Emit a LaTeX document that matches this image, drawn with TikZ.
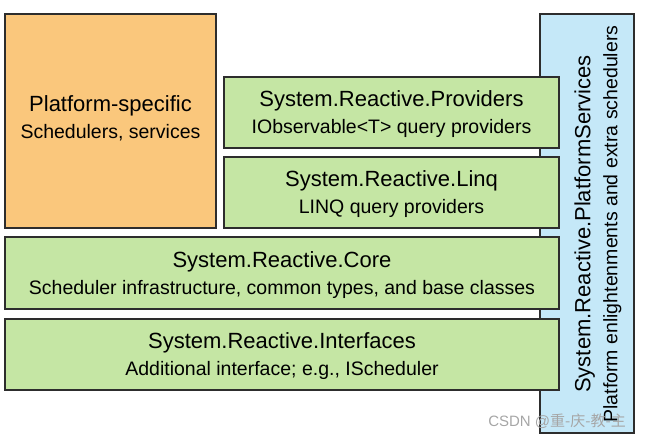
\documentclass[tikz,border=0pt]{standalone}
\usepackage{fontspec}
\setmainfont{Liberation Sans}
\newfontfamily\cjkfont{Noto Sans CJK SC}
\definecolor{orangefill}{RGB}{250,199,124}
\definecolor{greenfill}{RGB}{197,230,164}
\definecolor{bluefill}{RGB}{197,232,248}
\definecolor{edge}{RGB}{45,45,45}
\newcommand{\ttl}[1]{{\fontsize{22}{27}\selectfont #1}}
\tikzset{
  box/.style={draw=edge, line width=1.1pt, inner sep=0pt, outer sep=0pt, align=center,
    font=\fontsize{19.5}{27}\selectfont, text=black, text depth=0pt},
  greenbox/.style={box, fill=greenfill},
  txt/.style={inner sep=0pt, align=center, font=\fontsize{19.5}{27}\selectfont, text=black}
}
\begin{document}
\begin{tikzpicture}[x=1pt,y=-1pt]
\useasboundingbox (0,0) rectangle (646,442);
% right blue box (behind green boxes)
\node[box, fill=bluefill, minimum width=94, minimum height=419] (plat) at (587,223.5) {};
\node[txt, rotate=90] (plattxt) at (598,224) {\ttl{System.Reactive.PlatformServices}\\Platform enlightenments and extra schedulers};
% orange box
\node[box, fill=orangefill, minimum width=211, minimum height=214] (spec) at (110.5,121) {};
\node[txt] (spectxt) at (110.5,118) {\ttl{Platform-specific}\\Schedulers, services};
% green boxes
\node[greenbox, minimum width=335, minimum height=71] (prov) at (391.5,112.5)
  {\ttl{System.Reactive.Providers}\\IObservable<T> query providers};
\node[greenbox, minimum width=335, minimum height=71] (linq) at (391.5,192.5)
  {\ttl{System.Reactive.Linq}\\LINQ query providers};
\node[greenbox, minimum width=554, minimum height=72] (core) at (282,273)
  {\ttl{System.Reactive.Core}\\Scheduler infrastructure, common types, and base classes};
\node[greenbox, minimum width=554, minimum height=71] (intf) at (282,354.5)
  {\ttl{System.Reactive.Interfaces}\\Additional interface; e.g., IScheduler};
% watermark
\node[inner sep=0pt, anchor=east, text=black!35, font=\fontsize{15}{18}\selectfont] (wm) at (626,421) {CSDN @{\cjkfont 重-庆-教-主}};
\end{tikzpicture}
\end{document}
